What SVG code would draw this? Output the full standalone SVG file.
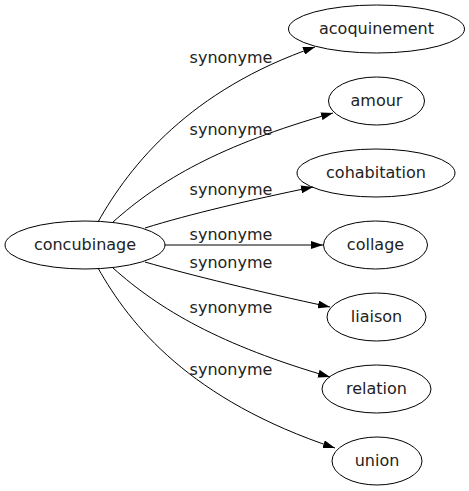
<svg xmlns="http://www.w3.org/2000/svg" width="469" height="491" viewBox="0 0 469 491">
<style>
.node ellipse{fill:none;stroke:#000;stroke-width:1}
text{font-family:"DejaVu Sans",sans-serif;font-size:16px;fill:#222;text-anchor:middle}
.edges path{fill:none;stroke:#000;stroke-width:1}
</style>
<defs>
<marker id="arr" viewBox="0 0 12 8" refX="12" refY="4" markerWidth="12" markerHeight="8" markerUnits="userSpaceOnUse" orient="auto">
<path d="M0,0 L12,4 L0,8 Z" fill="#000"/>
</marker>
</defs>
<g class="edges">
<path d="M98,222 C130,165 190,90 315,47" marker-end="url(#arr)"/>
<path d="M113,222 C160,180 220,145 333,113" marker-end="url(#arr)"/>
<path d="M145,228 C190,214 250,200 313,187" marker-end="url(#arr)"/>
<path d="M165,245 L323,245" marker-end="url(#arr)"/>
<path d="M145,262 C190,275 260,292 330,307" marker-end="url(#arr)"/>
<path d="M113,268 C160,310 220,345 330,377" marker-end="url(#arr)"/>
<path d="M98,268 C130,325 190,400 335,448" marker-end="url(#arr)"/>
<text x="231" y="63">synonyme</text>
<text x="231" y="135">synonyme</text>
<text x="231" y="195">synonyme</text>
<text x="231" y="240">synonyme</text>
<text x="231" y="268">synonyme</text>
<text x="231" y="313">synonyme</text>
<text x="231" y="375">synonyme</text>
</g>
<g id="concubinage" class="node"><ellipse cx="85" cy="245" rx="80" ry="24"/><text x="85" y="250">concubinage</text></g>
<g id="acoquinement" class="node"><ellipse cx="376.5" cy="29" rx="88" ry="24"/><text x="376.5" y="34">acoquinement</text></g>
<g id="amour" class="node"><ellipse cx="376.5" cy="101" rx="48" ry="24"/><text x="376.5" y="106">amour</text></g>
<g id="cohabitation" class="node"><ellipse cx="376" cy="173" rx="79" ry="24"/><text x="376" y="178">cohabitation</text></g>
<g id="collage" class="node"><ellipse cx="375.5" cy="245" rx="52" ry="24"/><text x="375.5" y="250">collage</text></g>
<g id="liaison" class="node"><ellipse cx="376.5" cy="317" rx="49.5" ry="24"/><text x="376.5" y="322">liaison</text></g>
<g id="relation" class="node"><ellipse cx="376.5" cy="389" rx="54.5" ry="24"/><text x="376.5" y="394">relation</text></g>
<g id="union" class="node"><ellipse cx="377" cy="461" rx="45" ry="24"/><text x="377" y="466">union</text></g>
</svg>
